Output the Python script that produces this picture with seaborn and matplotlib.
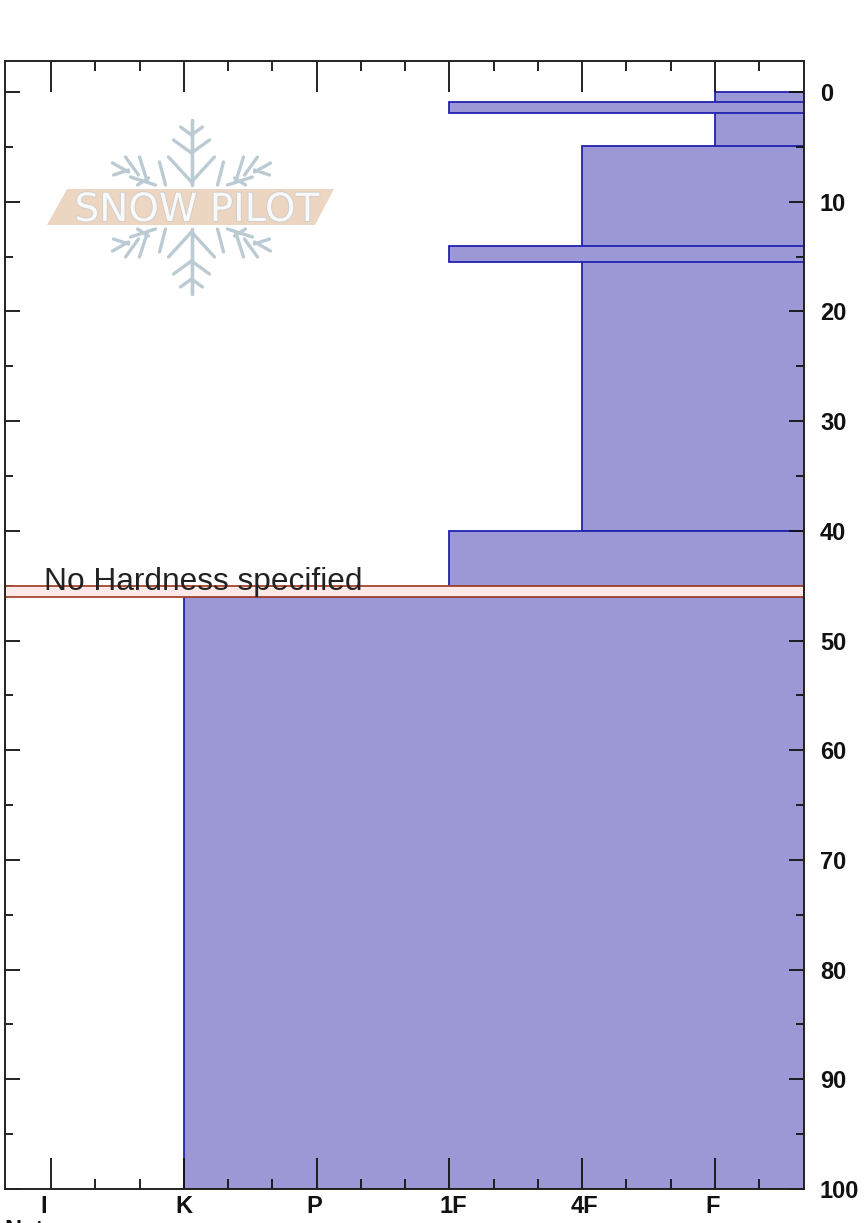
import numpy as np
import pandas as pd
import matplotlib
matplotlib.use("Agg")
import matplotlib.pyplot as plt
import matplotlib.patheffects as pe
from matplotlib.transforms import ScaledTranslation
import seaborn as sns
from matplotlib.patches import Polygon
from matplotlib.lines import Line2D

hardness_labels = ["I", "K", "P", "1F", "4F", "F"]
layer_top = [0, 0.9, 4.9, 14, 40, 46]
layer_bottom = [5, 1.9, 40, 15.5, 45, 100]
layer_hardness = [5, 3, 4, 3, 3, 1]
unspecified_top = [45]
unspecified_bottom = [46]
unspecified_label = "No Hardness specified"
depth_major = [0, 10, 20, 30, 40, 50, 60, 70, 80, 90, 100]
label_shift_px = [-7, 0, -2, 4, 2, -2]

W, H = 865, 1223
L, R, T, B = 5, 804, 61, 1189
XMIN = (L - 51) / 132.8
XMAX = (R - 51) / 132.8
YMIN = (T - 92) / 10.97

sns.set_style("white")
plt.rcParams["font.family"] = ["Liberation Sans", "DejaVu Sans"]

fig = plt.figure(figsize=(W / 100, H / 100), dpi=100)
ax = fig.add_axes([L / W, 1 - B / H, (R - L) / W, (B - T) / H])

layers = pd.DataFrame({"top": layer_top, "bottom": layer_bottom, "hard": layer_hardness})
ax.barh(layers["top"], XMAX - layers["hard"], height=layers["bottom"] - layers["top"],
        left=layers["hard"], align="edge", color="#9b98d5", edgecolor="#2222b0", linewidth=1.3, zorder=2)
ax.barh(unspecified_top, XMAX - XMIN, height=np.subtract(unspecified_bottom, unspecified_top),
        left=XMIN, align="edge", color="#fde9e7", edgecolor="#a5452c", linewidth=1.3, zorder=3)
ax.text(-0.05, unspecified_top[0] + 0.4, unspecified_label, fontsize=22.8,
        color="#222222", ha="left", va="baseline", zorder=5)

ax.set_xlim(XMIN, XMAX)
ax.set_ylim(100, YMIN)
ax.set_xticks(range(6))
ax.set_xticklabels(hardness_labels)
ax.set_xticks([i / 3 for i in range(17) if i % 3], minor=True)
ax.set_yticks(depth_major)
ax.set_yticks([d + 5 for d in depth_major[:-1]], minor=True)
ax.yaxis.tick_right()
ax.tick_params(axis="x", which="major", direction="in", length=22, width=1.3, top=True, bottom=True,
               color="#111111", labelsize=17, pad=4)
ax.tick_params(axis="x", which="minor", direction="in", length=7, width=1.3, top=True, bottom=True, color="#111111")
ax.tick_params(axis="y", which="major", direction="in", length=11, width=1.3, left=True, right=True,
               color="#111111", labelsize=17, pad=11.5)
ax.tick_params(axis="y", which="minor", direction="in", length=6, width=1.3, left=True, right=True, color="#111111")
for lab in ax.get_xticklabels() + ax.get_yticklabels():
    lab.set_fontweight("bold")
    lab.set_color("#111111")
for lab, dx in zip(ax.get_xticklabels(), label_shift_px):
    lab.set_transform(lab.get_transform() + ScaledTranslation(dx / 100, 0, fig.dpi_scale_trans))
for s in ax.spines.values():
    s.set_visible(True)
    s.set_linewidth(1.4)
    s.set_color("#222222")
    s.set_zorder(6)
for t in ax.xaxis.get_major_ticks() + ax.xaxis.get_minor_ticks() + ax.yaxis.get_major_ticks() + ax.yaxis.get_minor_ticks():
    t.tick1line.set_zorder(6)
    t.tick2line.set_zorder(6)
ax.set_axisbelow(False)

# clipped header and footer text of the original page
fig.text(23 / W, 1 + 12 / H, "p", fontsize=17, fontweight="bold", ha="center", va="baseline", color="#111111")
fig.text(4 / W, 1 - 1237 / H, "Notes", fontsize=17, fontweight="bold", ha="left", va="baseline", color="#111111")

# logo
def px(x, y):
    return x / W, 1 - y / H

logo_col = "#bccbd3"
cx, cy = 191.5, 207
flake = [
    (0, 22, 0, 87), (0, 25, 23, 50), (0, 54, 18, 67), (0, 72, 11, 80),
    (53, 32, 66, 50), (44, 25, 52, 50), (63, 35, 79, 44), (63, 37, 78, 32),
    (36, 22, 61, 30), (43, 29, 54, 22), (26, 22, 32, 45),
]
for sx in (-1, 1):
    for sy in (-1, 1):
        for x0, y0, x1, y1 in flake:
            p0 = px(cx + sx * x0, cy + sy * y0)
            p1 = px(cx + sx * x1, cy + sy * y1)
            fig.add_artist(Line2D(*zip(p0, p1), color=logo_col, lw=2.4, zorder=1, solid_capstyle="round"))
fig.add_artist(Polygon([px(67, 189), px(334, 189), px(315, 225), px(47, 225)], closed=True,
                       transform=fig.transFigure, facecolor="#ecd5c1", edgecolor="none", zorder=1.5))
fig.text(*px(197, 206), "SNOW PILOT", family=["DejaVu Sans"], fontsize=28, color="#f8f9fa",
         ha="center", va="center_baseline", zorder=1.6,
         path_effects=[pe.withStroke(linewidth=1.2, foreground="#cfcdca")])
ax.patch.set_alpha(0)

fig.savefig("out.png", dpi=100, facecolor="white")
